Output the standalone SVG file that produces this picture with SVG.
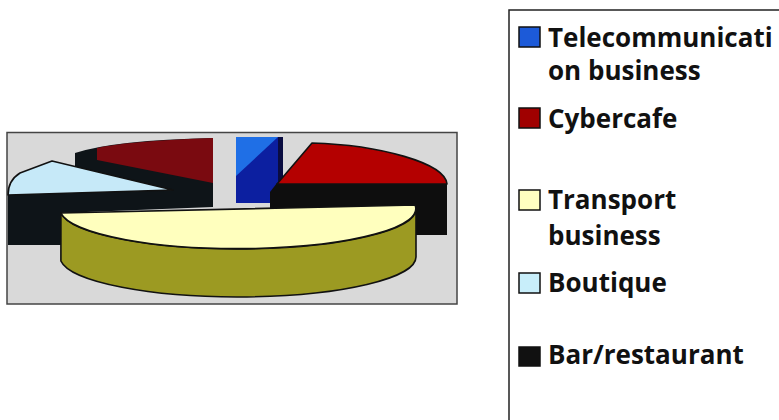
<svg xmlns="http://www.w3.org/2000/svg" width="779" height="420" viewBox="0 0 779 420">
<style>
.ol{stroke:#111;stroke-width:1.6;stroke-linejoin:round}
.lbl{font-family:"Open Sans","Noto Sans","Liberation Sans",sans-serif;font-weight:700;font-size:26px;fill:#111}
.sw{stroke:#111;stroke-width:1.5}
</style>
<rect width="779" height="420" fill="#fff"/>
<g id="chart">
<rect x="7" y="132.5" width="450" height="171.5" fill="#d9d9d9" stroke="#444" stroke-width="1.5"/>
</g>
<g id="slice-bar-left">
<path d="M75,153 Q115,140 213,138 L213,207 L61,213 L61,245 L8,245 L8,195 L75,167 Z" fill="#0e1418"/>
</g>
<g id="slice-cyber-left">
<path d="M97,148 Q130,141 213,138 L213,183 L97,160 Z" fill="#7a0a10"/>
</g>
<g id="slice-boutique">
<path d="M8,195 C8,186 12,178 20,173 L52,161 L173,190 Z" fill="#c6e9f8" class="ol"/>
</g>
<g id="slice-telecom">
<rect x="236" y="137" width="47" height="66" fill="#0c1fa0"/>
<path d="M236,137 L278,137 L236,176 Z" fill="#1f6fe6"/>
<rect x="278" y="137" width="5" height="66" fill="#0a0c40"/>
</g>
<g id="slice-cybercafe">
<path d="M277,183 L447,183 L447,235 L270,235 L270,192 Z" fill="#0e0e0e"/>
<path d="M277,184 L312,143 C380,145 445,163 447,184 Z" fill="#b40000" class="ol"/>
</g>
<g id="slice-transport">
<path d="M416,209 A178 40 0 0 1 60.9,213 L60.9,261 A178 40 0 0 0 416,257 Z" fill="#9c9a22" class="ol" stroke-width="2"/>
<path d="M60.9,213 L415.1,205 A178 40 0 0 1 60.9,213 Z" fill="#ffffbe" class="ol" stroke-width="2"/>
</g>
<g id="legend">
<rect x="509" y="10" width="320" height="460" fill="#fff" stroke="#222" stroke-width="1.5"/>
<g id="leg-telecom">
<rect x="519" y="27" width="21" height="20" fill="#1c5ad8" class="sw"/>
<text x="548" y="47" class="lbl">Telecommunicati</text>
<text x="548" y="80" class="lbl">on business</text>
</g>
<g id="leg-cybercafe">
<rect x="519" y="108" width="21" height="20" fill="#a00000" class="sw"/>
<text x="548" y="128" class="lbl">Cybercafe</text>
</g>
<g id="leg-transport">
<rect x="519" y="190" width="21" height="20" fill="#ffffc0" class="sw"/>
<text x="548" y="209" class="lbl">Transport</text>
<text x="548" y="245" class="lbl">business</text>
</g>
<g id="leg-boutique">
<rect x="519" y="273" width="21" height="20" fill="#c8eefa" class="sw"/>
<text x="548" y="292" class="lbl">Boutique</text>
</g>
<g id="leg-bar">
<rect x="519" y="347" width="21" height="19" fill="#111" class="sw"/>
<text x="548" y="364" class="lbl">Bar/restaurant</text>
</g>
</g>
</svg>
